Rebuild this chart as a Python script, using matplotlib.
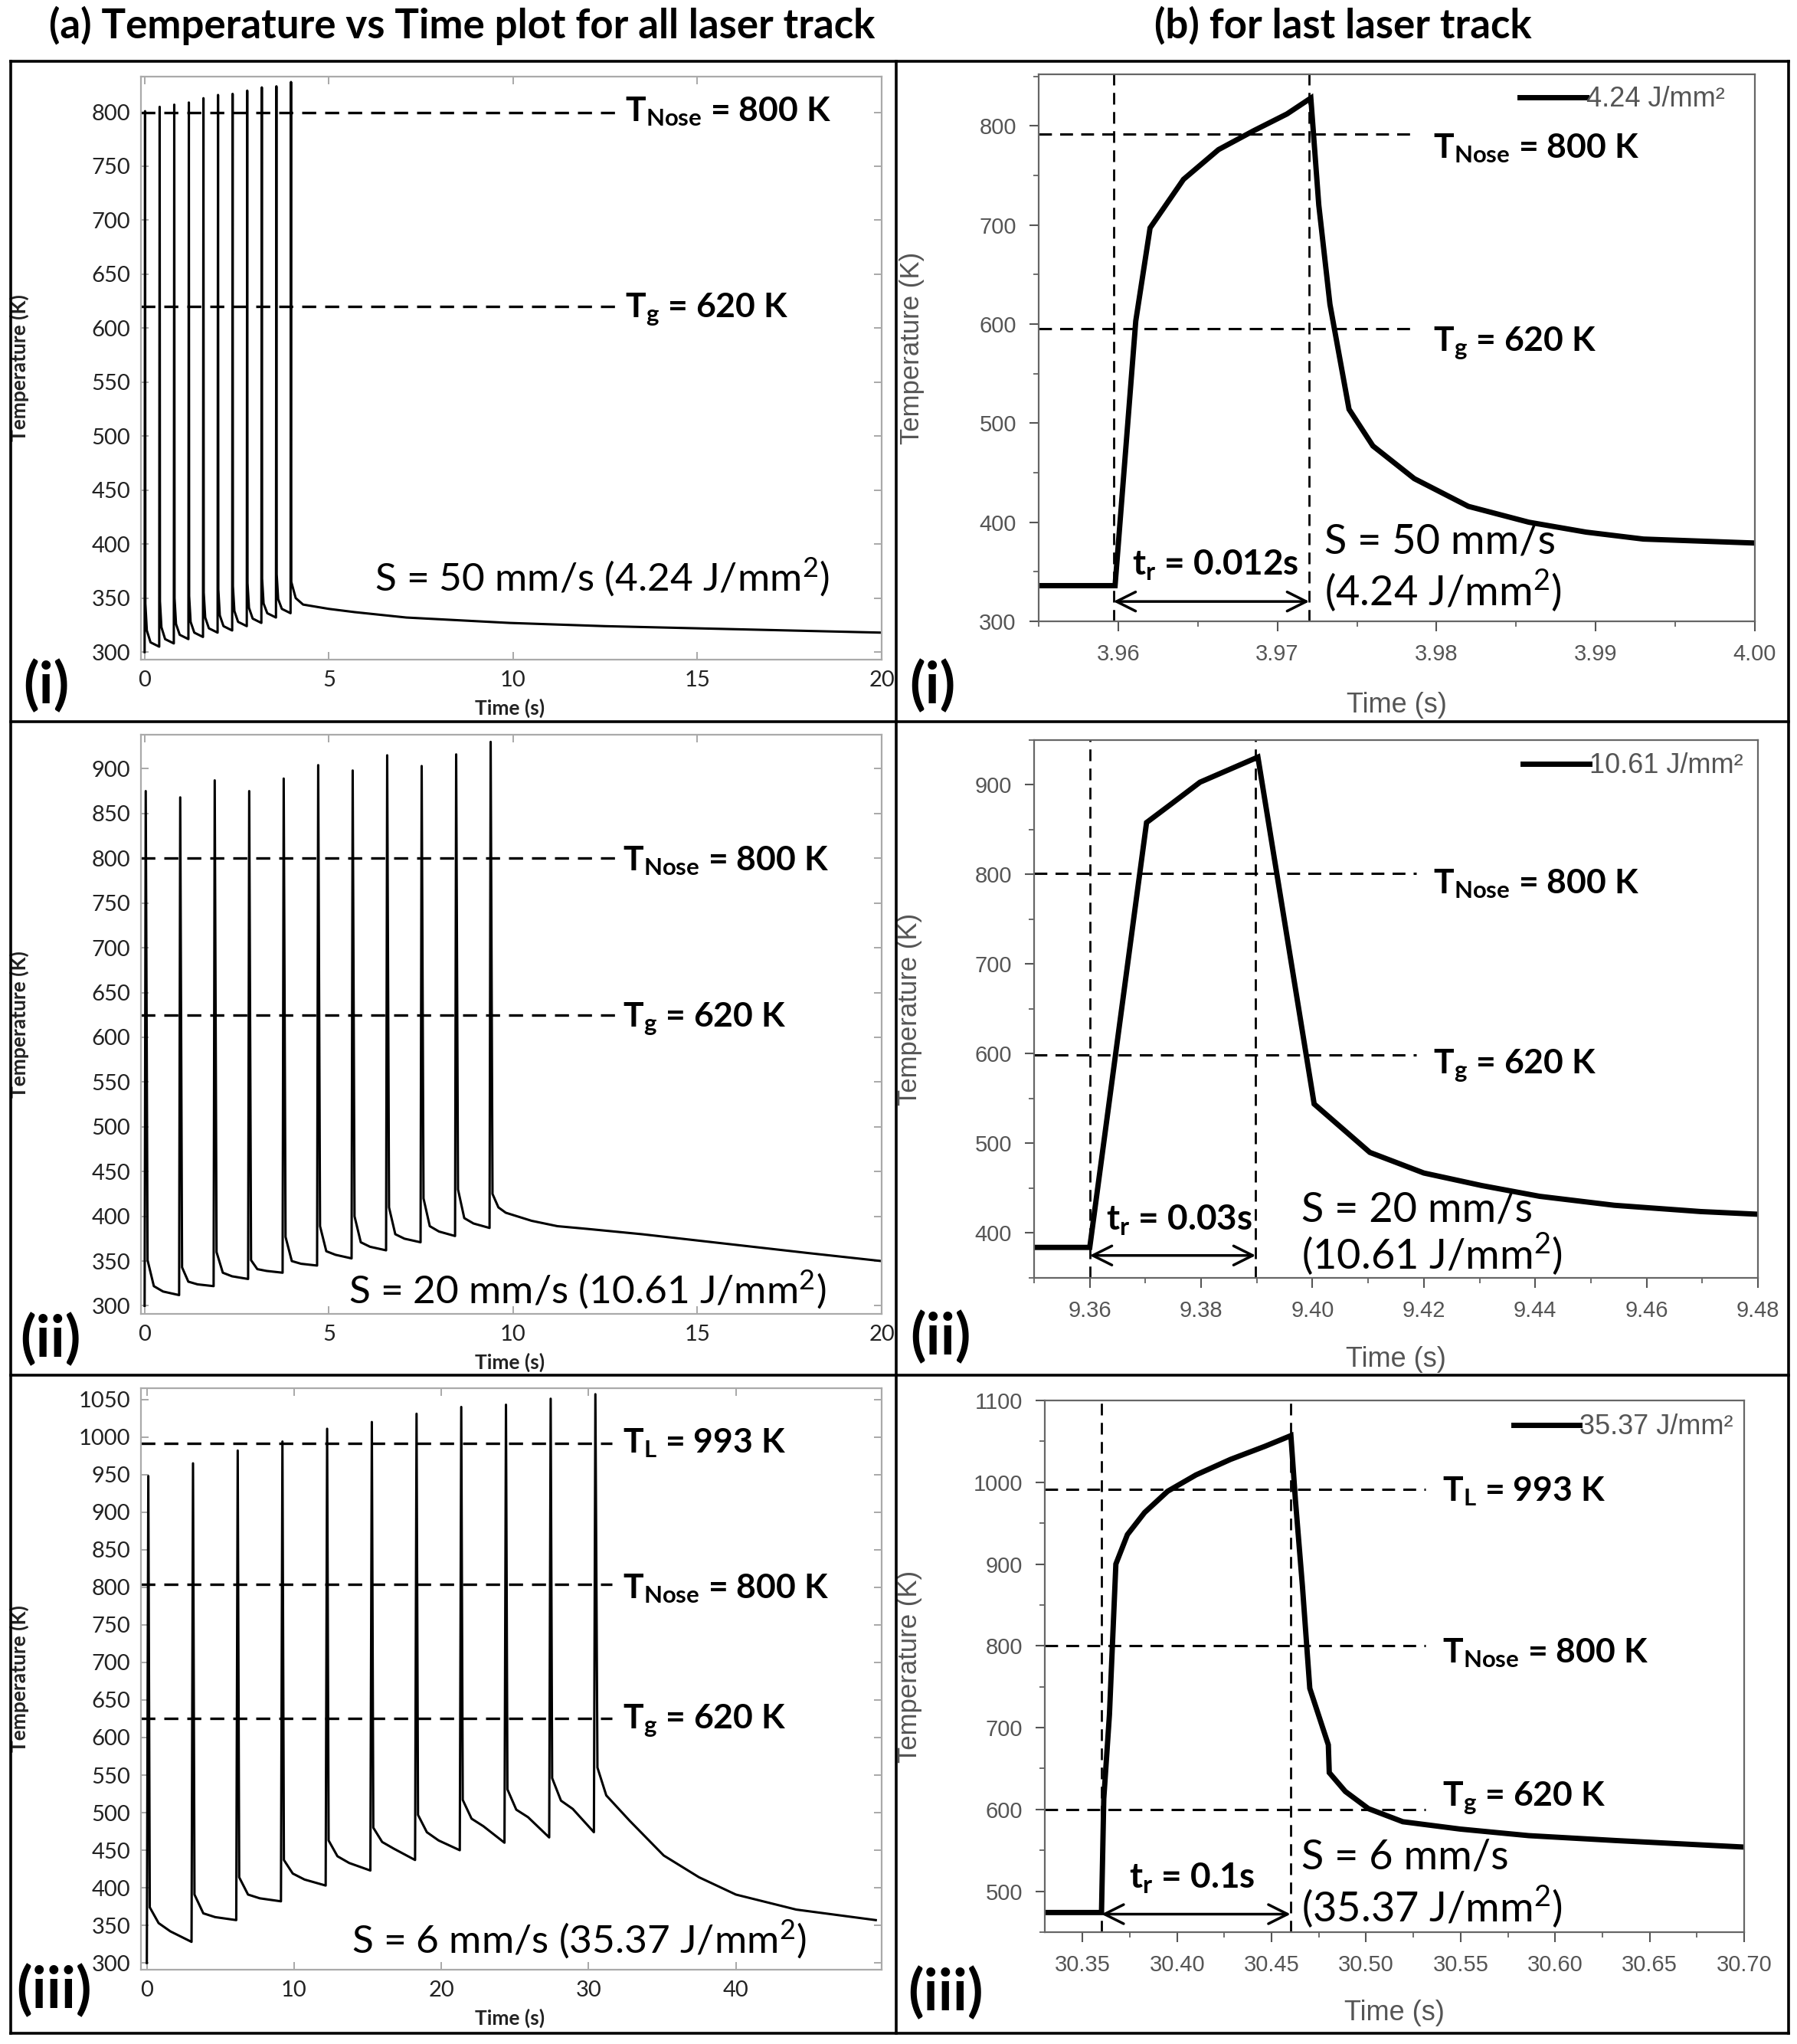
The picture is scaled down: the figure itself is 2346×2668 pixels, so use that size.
import matplotlib.pyplot as plt
from matplotlib.lines import Line2D
from matplotlib.ticker import MultipleLocator, FormatStrFormatter

plt.rcParams['mathtext.fontset'] = 'custom'
plt.rcParams['mathtext.rm'] = 'Lato'
plt.rcParams['mathtext.it'] = 'Lato:italic'
plt.rcParams['mathtext.bf'] = 'Lato:bold'

W, H = 2346, 2668

# ---- (a) whole process, one spike per laser track ----
# panel (i): 50 mm/s
a1_period, a1_heat = 0.396, 0.012
a1_peak = [801, 805, 807, 809, 813, 816, 817, 820, 823, 824, 828]
a1_knee = [345, 347, 350, 352, 355, 358, 361, 364, 368, 372]
a1_mid = [320, 323, 326, 328, 332, 334, 338, 341, 345, 349]
a1_late = [309, 312, 316, 318, 322, 324, 328, 331, 336, 340]
a1_trough = [305, 308, 312, 314, 318, 320, 324, 327, 332, 336]
a1_tail_t = [3.98, 4.1, 4.3, 5.0, 5.7, 7.1, 9.9, 12.5, 15, 17.5, 20]
a1_tail_T = [365, 350, 344, 340, 337, 332, 327, 324, 322, 320, 318]

# panel (ii): 20 mm/s
a2_period, a2_heat = 0.936, 0.03
a2_peak = [875, 868, 887, 875, 889, 904, 898, 915, 903, 916, 930]
a2_knee = [351, 343, 360, 351, 377, 389, 400, 410, 420, 430]
a2_mid = [322, 327, 337, 341, 350, 361, 371, 380, 389, 398]
a2_late = [316, 324, 333, 339, 347, 357, 366, 375, 383, 392]
a2_trough = [312, 322, 330, 337, 345, 353, 362, 371, 378, 387]
a2_tail_t = [9.44, 9.6, 9.8, 10.5, 11.2, 12, 13.5, 15, 16.5, 18, 20]
a2_tail_T = [425, 410, 404, 395, 389, 386, 380, 373, 366, 359, 350]

# panel (iii): 6 mm/s
a3_period, a3_heat = 3.036, 0.1
a3_peak = [948, 965, 982, 994, 1011, 1020, 1031, 1040, 1043, 1051, 1057]
a3_knee = [374, 391, 414, 437, 463, 480, 497, 517, 531, 546]
a3_mid = [353, 366, 391, 419, 442, 461, 474, 492, 504, 516]
a3_late = [342, 361, 386, 411, 433, 452, 463, 482, 494, 505]
a3_trough = [328, 357, 382, 403, 423, 437, 450, 460, 467, 474]
a3_tail_t = [30.6, 31.2, 32.8, 35.1, 37.5, 40, 44.1, 49.5]
a3_tail_T = [560, 523, 489, 443, 414, 391, 371, 357]

# ---- (b) last laser track ----
b1_t = [3.955, 3.9598, 3.9611, 3.962, 3.9641, 3.9663, 3.9685, 3.9706, 3.9721,
        3.9726, 3.9733, 3.9745, 3.976, 3.9786, 3.982, 3.9858, 3.9894, 3.993, 4.0]
b1_T = [336, 336, 603, 697, 746, 776, 795, 812, 828,
        720, 620, 514, 477, 444, 416, 400, 390, 383, 379]
b2_t = [9.35, 9.36, 9.3702, 9.3747, 9.3798, 9.385, 9.3902, 9.4003, 9.4103,
        9.42, 9.4304, 9.4408, 9.4542, 9.4697, 9.48]
b2_T = [384, 384, 858, 879, 903, 917, 931, 544, 490, 467, 453, 441, 431, 424, 421]
b3_t = [30.33, 30.36, 30.3612, 30.3642, 30.3676, 30.3737, 30.3828, 30.395, 30.41,
        30.4283, 30.4465, 30.4602, 30.4626, 30.4663, 30.4702, 30.48, 30.4805,
        30.489, 30.5012, 30.5194, 30.5498, 30.586, 30.632, 30.70]
b3_T = [474, 474, 613, 716, 900, 936, 963, 989, 1009, 1028, 1044, 1057, 978,
        873, 748, 679, 645, 622, 601, 585, 576, 568, 562, 554]


def tracks(period, heat, dts, peaks, knees, mids, lates, troughs, tail_t, tail_T):
    t, T = [0.0], [300.0]
    for k, pk in enumerate(peaks):
        t0 = k * period
        if k > 0:
            t.append(t0)
            T.append(troughs[k - 1])
        t.append(t0 + heat)
        T.append(pk)
        if k < len(knees):
            t += [t0 + dts[0], t0 + dts[1], t0 + dts[2]]
            T += [knees[k], mids[k], lates[k]]
    return t + tail_t, T + tail_T


fig = plt.figure(figsize=(W / 100, H / 100), dpi=100)


def axes_px(l, t, r, b):
    return fig.add_axes([l / W, 1 - b / H, (r - l) / W, (b - t) / H])


def ftext(x, y, s, size=32, weight='bold', **kw):
    fig.text(x / W, 1 - y / H, s, fontsize=size, family='Lato', weight=weight,
             va='baseline', **kw)


def style_a(ax, xlim, ylim, xstep, ystep):
    ax.set_xlim(*xlim)
    ax.set_ylim(*ylim)
    ax.xaxis.set_major_locator(MultipleLocator(xstep))
    ax.yaxis.set_major_locator(MultipleLocator(ystep))
    ax.tick_params(direction='in', top=True, right=True, length=7, width=1.2,
                   color='#999999', labelcolor='#222222', labelsize=21, pad=10)
    for lab in ax.get_xticklabels() + ax.get_yticklabels():
        lab.set_family('Lato')
    for s in ax.spines.values():
        s.set_color('#aaaaaa')
        s.set_linewidth(1.6)
    ax.set_xlabel('Time (s)', family='Lato', fontsize=19, weight='bold', color='#222222')
    ax.set_ylabel('Temperature (K)', family='Lato', fontsize=19, weight='bold',
                  color='#222222')
    ax.xaxis.set_label_coords(0.498, -0.067)
    ax.yaxis.set_label_coords(-0.151, 0.5)


def style_b(ax, xlim, ylim, xmaj, xmin, fmt, ylab_x, xlab_y):
    ax.set_xlim(*xlim)
    ax.set_ylim(*ylim)
    ax.xaxis.set_major_locator(MultipleLocator(xmaj))
    ax.xaxis.set_minor_locator(MultipleLocator(xmin))
    ax.xaxis.set_major_formatter(FormatStrFormatter(fmt))
    ax.yaxis.set_major_locator(MultipleLocator(100))
    ax.yaxis.set_minor_locator(MultipleLocator(50))
    ax.tick_params(which='major', direction='out', length=9, width=1.5,
                   color='#555555', labelcolor='#555555', labelsize=21, pad=12)
    ax.tick_params(which='minor', direction='out', length=5, width=1.2, color='#555555')
    for lab in ax.get_xticklabels() + ax.get_yticklabels():
        lab.set_family('Liberation Sans')
    for s in ax.spines.values():
        s.set_color('#666666')
        s.set_linewidth(1.6)
    ax.set_xlabel('Time (s)', family='Liberation Sans', fontsize=26, color='#555555')
    ax.set_ylabel('Temperature (K)', family='Liberation Sans', fontsize=25, color='#555555')
    ax.xaxis.set_label_coords(0.5, xlab_y)
    ax.yaxis.set_label_coords(ylab_x, 0.5)


dash = (0, (5.5, 3.5))

# ---------------- column (a) ----------------
a_specs = [
    (100, 861, (-0.1, 20), (293, 833), 5, 50,
     tracks(a1_period, a1_heat, (0.02, 0.06, 0.16), a1_peak, a1_knee, a1_mid, a1_late,
            a1_trough, a1_tail_t, a1_tail_T), [800, 620], 12.9),
    (959, 1715, (-0.1, 20), (291, 938), 5, 50,
     tracks(a2_period, a2_heat, (0.08, 0.25, 0.5), a2_peak, a2_knee, a2_mid, a2_late,
            a2_trough, a2_tail_t, a2_tail_T), [800, 625], 12.76),
    (1812, 2571, (-0.4, 49.9), (291, 1065), 10, 50,
     tracks(a3_period, a3_heat, (0.2, 0.8, 1.6), a3_peak, a3_knee, a3_mid, a3_late,
            a3_trough, a3_tail_t, a3_tail_T), [992, 804, 625], 31.6),
]
for top, bot, xl, yl, xs, ys, (t, T), levels, xend in a_specs:
    ax = axes_px(184, top, 1151, bot)
    ax.plot(t, T, color='black', lw=2.2)
    for lv in levels:
        ax.plot([xl[0], xend], [lv, lv], color='black', lw=2.4, ls=dash)
    style_a(ax, xl, yl, xs, ys)

# ---------------- column (b) ----------------
b_specs = [
    (1356, 97, 2291, 811, b1_t, b1_T, (3.955, 4.0), (300, 852), 0.01, 0.005, '%.2f',
     [3.9597, 3.972], [792, 595], 3.9787, 320, '4.24 J/mm²', (0.672, 0.954), -0.159, -0.129),
    (1350, 966, 2295, 1668, b2_t, b2_T, (9.35, 9.48), (350, 950), 0.02, 0.01, '%.2f',
     [9.36, 9.3898], [801, 599], 9.4186, 375, '10.61 J/mm²', (0.675, 0.952), -0.154, -0.127),
    (1364, 1828, 2277, 2522, b3_t, b3_T, (30.33, 30.70), (450, 1100), 0.05, 0.025, '%.2f',
     [30.36, 30.46], [991, 800, 600], 30.5316, 472, '35.37 J/mm²', (0.670, 0.950), -0.175, -0.127),
]
for l, top, r, bot, t, T, xl, yl, xmaj, xmin, fmt, vlines, hlines, xend, arr_y, lab, lpos, ylx, xly in b_specs:
    ax = axes_px(l, top, r, bot)
    ax.plot(t, T, color='black', lw=5, label=lab, solid_joinstyle='miter')
    for v in vlines:
        ax.plot([v, v], yl, color='black', lw=2.0, ls=dash)
    for h in hlines:
        ax.plot([xl[0], xend], [h, h], color='black', lw=2.2, ls=dash)
    ax.annotate('', xy=(vlines[1], arr_y), xytext=(vlines[0], arr_y),
                arrowprops=dict(arrowstyle='<->,head_length=0.9,head_width=0.45',
                                color='black', lw=2.5, shrinkA=0, shrinkB=0,
                                mutation_scale=20))
    ax.legend(loc='center left', bbox_to_anchor=lpos, frameon=False,
              handlelength=2.4, handletextpad=0.0, borderpad=0, borderaxespad=0,
              prop={'family': 'Liberation Sans', 'size': 26}, labelcolor='#555555')
    style_b(ax, xl, yl, xmaj, xmin, fmt, ylx, xly)

# ---------------- titles and annotations ----------------
fig.text(603 / W, 1 - 33 / H, '(a) Temperature vs Time plot for all laser track',
         fontsize=38, family='Lato', weight='bold', ha='center', va='center')
fig.text(1753 / W, 1 - 33 / H, '(b) for last laser track',
         fontsize=38, family='Lato', weight='bold', ha='center', va='center')

tnose = r'T$_{\mathbf{Nose}}$ = 800 K'
tg = r'T$_{\mathbf{g}}$ = 620 K'
tl = r'T$_{\mathbf{L}}$ = 993 K'
sq = r'$^{\mathrm{2}}$'

ftext(816, 158, tnose)
ftext(816, 414, tg)
ftext(489, 771, 'S = 50 mm/s (4.24 J/mm' + sq + ')', size=37, weight='normal')
ftext(813, 1136, tnose)
ftext(813, 1340, tg)
ftext(455, 1701, 'S = 20 mm/s (10.61 J/mm' + sq + ')', size=37, weight='normal')
ftext(813, 1896, tl)
ftext(813, 2086, tnose)
ftext(813, 2256, tg)
ftext(459, 2549, 'S = 6 mm/s (35.37 J/mm' + sq + ')', size=37, weight='normal')

ftext(1871, 206, tnose)
ftext(1871, 458, tg)
ftext(1729, 722, 'S = 50 mm/s', size=39, weight='normal')
ftext(1729, 791, '(4.24 J/mm' + sq + ')', size=39, weight='normal')
ftext(1478, 751, r't$_{\mathbf{r}}$ = 0.012s', size=33)
ftext(1871, 1166, tnose)
ftext(1871, 1401, tg)
ftext(1699, 1594, 'S = 20 mm/s', size=39, weight='normal')
ftext(1699, 1657, '(10.61 J/mm' + sq + ')', size=39, weight='normal')
ftext(1444, 1606, r't$_{\mathbf{r}}$ = 0.03s', size=33)
ftext(1883, 1959, tl)
ftext(1883, 2170, tnose)
ftext(1883, 2357, tg)
ftext(1699, 2440, 'S = 6 mm/s', size=39, weight='normal')
ftext(1699, 2509, '(35.37 J/mm' + sq + ')', size=39, weight='normal')
ftext(1474, 2465, r't$_{\mathbf{r}}$ = 0.1s', size=33)

for x, y, s in [(60, 896, '(i)'), (1217, 896, '(i)'), (66, 1749, '(ii)'),
                (1228, 1746, '(ii)'), (71, 2599, '(iii)'), (1234, 2602, '(iii)')]:
    fig.text(x / W, 1 - y / H, s, fontsize=54, family='Lato', weight='bold',
             ha='center', va='center')

# panel frame
frame = dict(color='black', lw=2.6, transform=fig.transFigure)
for x0, y0, x1, y1 in [(14, 80, 2335, 80), (14, 2654, 2335, 2654), (14, 80, 14, 2654),
                       (2335, 80, 2335, 2654), (1170, 80, 1170, 2654),
                       (14, 942, 2335, 942), (14, 1795, 2335, 1795)]:
    fig.add_artist(Line2D([x0 / W, x1 / W], [1 - y0 / H, 1 - y1 / H], **frame))

fig.savefig('out.png', dpi=100, facecolor='white')
